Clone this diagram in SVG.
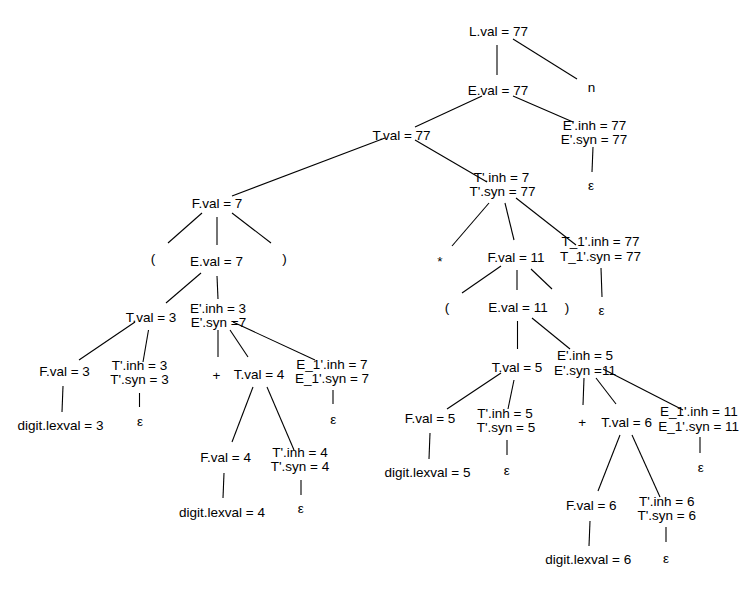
<svg xmlns="http://www.w3.org/2000/svg" width="755" height="592" viewBox="0 0 755 592">
<style>
text{font-family:"Liberation Sans",Arial,sans-serif;font-size:13.5px;fill:#000;text-anchor:middle}
.e line{stroke:#000;stroke-width:1.1}
</style>
<rect width="755" height="592" fill="#fff"/>
<g class="e" id="connectors">
<line x1="497" y1="45" x2="497" y2="75"/>
<line x1="513" y1="39" x2="577" y2="79"/>
<line x1="482" y1="96" x2="415" y2="127"/>
<line x1="513" y1="96" x2="573" y2="122"/>
<line x1="593" y1="147" x2="592" y2="172"/>
<line x1="385" y1="138" x2="232" y2="196"/>
<line x1="415" y1="140" x2="487" y2="182"/>
<line x1="202" y1="213" x2="168" y2="243"/>
<line x1="217" y1="217" x2="217" y2="245"/>
<line x1="232" y1="213" x2="271" y2="243"/>
<line x1="201" y1="273" x2="166" y2="303"/>
<line x1="217" y1="276" x2="218" y2="299"/>
<line x1="135" y1="322" x2="79" y2="360"/>
<line x1="148.5" y1="330" x2="143" y2="362"/>
<line x1="63" y1="386" x2="62" y2="412"/>
<line x1="139.5" y1="393" x2="139.5" y2="407"/>
<line x1="218" y1="330" x2="218" y2="357"/>
<line x1="230" y1="330" x2="248" y2="357"/>
<line x1="233" y1="322" x2="315" y2="360"/>
<line x1="333" y1="390" x2="333" y2="404"/>
<line x1="253" y1="387" x2="232" y2="442"/>
<line x1="267" y1="387" x2="294" y2="450"/>
<line x1="224" y1="473" x2="223" y2="498"/>
<line x1="301" y1="480" x2="301" y2="495"/>
<line x1="489" y1="203" x2="452" y2="246"/>
<line x1="505" y1="203" x2="514" y2="240"/>
<line x1="516" y1="198" x2="576" y2="245"/>
<line x1="601" y1="268" x2="602" y2="297"/>
<line x1="501" y1="266" x2="462" y2="293"/>
<line x1="517" y1="270" x2="517" y2="290"/>
<line x1="531" y1="269" x2="552" y2="289"/>
<line x1="517.5" y1="321" x2="517.5" y2="349"/>
<line x1="532" y1="318" x2="570" y2="349"/>
<line x1="501" y1="373" x2="447" y2="409"/>
<line x1="514" y1="380" x2="508" y2="409"/>
<line x1="430" y1="433" x2="429" y2="459"/>
<line x1="507" y1="440" x2="507" y2="455"/>
<line x1="584" y1="378" x2="583" y2="405"/>
<line x1="596" y1="378" x2="616" y2="404"/>
<line x1="603" y1="369" x2="683" y2="410"/>
<line x1="700" y1="437" x2="700" y2="453"/>
<line x1="620" y1="435" x2="598" y2="491"/>
<line x1="632" y1="435" x2="660" y2="497"/>
<line x1="590" y1="521" x2="589" y2="546"/>
<line x1="666" y1="527" x2="666" y2="542"/>
</g>
<g id="L"><text x="498.5" y="36">L.val = 77</text></g>
<g id="n"><text x="591.5" y="92">n</text></g>
<g id="E"><text x="498" y="95">E.val = 77</text></g>
<g id="Ep"><text x="594.5" y="130">E'.inh = 77</text><text x="594" y="144">E'.syn = 77</text></g>
<g id="eps1"><text x="591" y="190">ε</text></g>
<g id="T"><text x="401.5" y="140">T.val = 77</text></g>
<g id="Tp"><text x="501.5" y="181.5">T'.inh = 7</text><text x="502.5" y="195.5">T'.syn = 77</text></g>
<g id="F7"><text x="217" y="208">F.val = 7</text></g>
<g id="lp1"><text x="153" y="263">(</text></g>
<g id="E7"><text x="216.5" y="266">E.val = 7</text></g>
<g id="rp1"><text x="284.5" y="263">)</text></g>
<g id="T3"><text x="151" y="322">T.val = 3</text></g>
<g id="Ep7"><text x="218" y="313">E'.inh = 3</text><text x="218.5" y="327">E'.syn =7</text></g>
<g id="F3"><text x="64.5" y="376">F.val = 3</text></g>
<g id="Tp3"><text x="139.5" y="370">T'.inh = 3</text><text x="139.5" y="384">T'.syn = 3</text></g>
<g id="d3"><text x="60.5" y="430">digit.lexval = 3</text></g>
<g id="eps2"><text x="140" y="426">ε</text></g>
<g id="plus1"><text x="216.5" y="379.5">+</text></g>
<g id="T4"><text x="259" y="379">T.val = 4</text></g>
<g id="E1p7"><text x="332" y="368.5">E_1'.inh = 7</text><text x="332" y="382.5">E_1'.syn = 7</text></g>
<g id="eps3"><text x="333.3" y="424">ε</text></g>
<g id="F4"><text x="225.7" y="462">F.val = 4</text></g>
<g id="Tp4"><text x="300" y="457">T'.inh = 4</text><text x="300" y="471">T'.syn = 4</text></g>
<g id="d4"><text x="222" y="517">digit.lexval = 4</text></g>
<g id="eps4"><text x="300.7" y="513">ε</text></g>
<g id="star"><text x="440" y="266">*</text></g>
<g id="F11"><text x="516" y="262">F.val = 11</text></g>
<g id="T1p"><text x="600.5" y="246">T_1'.inh = 77</text><text x="600.5" y="261">T_1'.syn = 77</text></g>
<g id="eps5"><text x="601.5" y="315">ε</text></g>
<g id="lp2"><text x="447" y="312">(</text></g>
<g id="E11"><text x="518" y="312">E.val = 11</text></g>
<g id="rp2"><text x="567" y="312">)</text></g>
<g id="T5"><text x="517" y="372">T.val = 5</text></g>
<g id="Ep11"><text x="585" y="360">E'.inh = 5</text><text x="585" y="375">E'.syn =11</text></g>
<g id="F5"><text x="430" y="423">F.val = 5</text></g>
<g id="Tp5"><text x="505" y="418">T'.inh = 5</text><text x="506" y="432">T'.syn = 5</text></g>
<g id="d5"><text x="427.5" y="477">digit.lexval = 5</text></g>
<g id="eps6"><text x="506.7" y="475">ε</text></g>
<g id="plus2"><text x="582.3" y="426.5">+</text></g>
<g id="T6"><text x="626.7" y="427">T.val = 6</text></g>
<g id="E1p11"><text x="698.8" y="416">E_1'.inh = 11</text><text x="698.7" y="431">E_1'.syn = 11</text></g>
<g id="eps7"><text x="700.7" y="472">ε</text></g>
<g id="F6"><text x="591.3" y="510">F.val = 6</text></g>
<g id="Tp6"><text x="666.7" y="506">T'.inh = 6</text><text x="666.7" y="520">T'.syn = 6</text></g>
<g id="d6"><text x="588.3" y="564">digit.lexval = 6</text></g>
<g id="eps8"><text x="666" y="563">ε</text></g>
</svg>
